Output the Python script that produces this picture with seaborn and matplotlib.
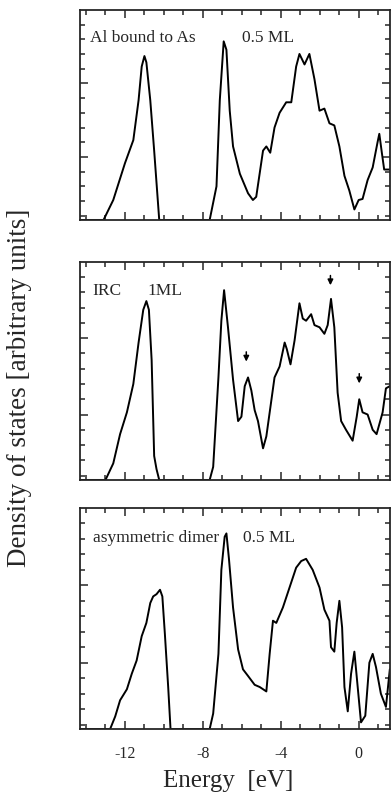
import numpy as np
import pandas as pd
import seaborn as sns
import matplotlib.pyplot as plt
from matplotlib.ticker import MultipleLocator, FixedLocator

# panel 1: Al bound to As, 0.5 ML
e1 = [-14.3, -13.1, -12.6, -12.0, -11.57, -11.3, -11.14, -11.0, -10.9, -10.7, -10.5, -10.24,
      -7.65, -7.3, -7.13, -6.93, -6.79, -6.62, -6.45, -6.1, -5.68, -5.43, -5.26, -4.91, -4.74,
      -4.54, -4.32, -4.06, -3.72, -3.46, -3.21, -3.04, -2.78, -2.53, -2.27, -2.01, -1.76, -1.5,
      -1.25, -0.99, -0.73, -0.48, -0.22, 0.0, 0.2, 0.46, 0.72, 0.97, 1.06, 1.19, 1.31, 1.48, 1.6]
d1 = [0, 0, 0.095, 0.27, 0.38, 0.57, 0.73, 0.78, 0.75, 0.57, 0.33, 0,
      0, 0.16, 0.57, 0.85, 0.81, 0.52, 0.35, 0.22, 0.127, 0.095, 0.11, 0.33, 0.35,
      0.32, 0.44, 0.51, 0.56, 0.56, 0.73, 0.79, 0.74, 0.79, 0.67, 0.52, 0.53, 0.46,
      0.45, 0.35, 0.21, 0.14, 0.05, 0.095, 0.10, 0.19, 0.25, 0.37, 0.41, 0.32, 0.24, 0.24, 0.24]

# panel 2: IRC, 1 ML
e2 = [-14.3, -13.0, -12.6, -12.25, -11.9, -11.57, -11.3, -11.06, -10.9, -10.77, -10.63, -10.5,
      -10.38, -10.24, -7.65, -7.47, -7.2, -7.05, -6.91, -6.71, -6.45, -6.19, -6.02, -5.85,
      -5.68, -5.51, -5.34, -5.17, -4.91, -4.74, -4.32, -4.06, -3.8, -3.69, -3.5, -3.29, -3.04,
      -2.87, -2.7, -2.44, -2.27, -2.01, -1.76, -1.59, -1.42, -1.25, -1.08, -0.9, -0.65, -0.31,
      -0.1, 0.03, 0.2, 0.46, 0.72, 0.92, 1.23, 1.4, 1.6]
d2 = [0, 0, 0.076, 0.21, 0.31, 0.44, 0.63, 0.78, 0.82, 0.78, 0.55, 0.11,
      0.05, 0, 0, 0.06, 0.47, 0.73, 0.87, 0.70, 0.46, 0.27, 0.29, 0.43,
      0.47, 0.41, 0.32, 0.27, 0.145, 0.20, 0.47, 0.52, 0.63, 0.60, 0.53, 0.64, 0.81,
      0.74, 0.73, 0.76, 0.71, 0.70, 0.67, 0.71, 0.83, 0.70, 0.40, 0.27, 0.23, 0.18,
      0.29, 0.37, 0.31, 0.30, 0.23, 0.21, 0.31, 0.42, 0.43]

# panel 3: asymmetric dimer, 0.5 ML
e3 = [-14.3, -12.76, -12.5, -12.25, -11.9, -11.65, -11.4, -11.14, -10.9, -10.7, -10.55, -10.38,
      -10.2, -10.08, -9.95, -9.78, -9.66, -7.65, -7.47, -7.2, -7.05, -6.88, -6.79, -6.66,
      -6.45, -6.19, -5.94, -5.68, -5.34, -5.08, -4.74, -4.57, -4.4, -4.23, -3.89, -3.55, -3.21,
      -2.95, -2.7, -2.36, -2.01, -1.76, -1.5, -1.42, -1.25, -1.13, -0.99, -0.85, -0.73, -0.56,
      -0.39, -0.22, -0.05, 0.12, 0.34, 0.55, 0.72, 0.89, 1.14, 1.4, 1.6]
d3 = [0, 0, 0.057, 0.13, 0.18, 0.25, 0.31, 0.42, 0.48, 0.57, 0.60, 0.61,
      0.63, 0.60, 0.43, 0.19, 0, 0, 0.07, 0.34, 0.72, 0.87, 0.885, 0.77,
      0.55, 0.36, 0.27, 0.24, 0.20, 0.19, 0.17, 0.34, 0.49, 0.48, 0.55, 0.64, 0.73,
      0.76, 0.77, 0.72, 0.64, 0.54, 0.49, 0.37, 0.35, 0.48, 0.58, 0.46, 0.19, 0.08,
      0.25, 0.35, 0.19, 0.03, 0.06, 0.30, 0.34, 0.28, 0.16, 0.10, 0.27]

labels = [("Al bound to As", "0.5 ML"), ("IRC", "1ML"), ("asymmetric dimer", "0.5 ML")]

# arrows in the IRC panel (energy, tip height)
arrow_e = [-5.77, -1.45, 0.03]
arrow_d = [0.52, 0.87, 0.42]

sns.set_style("ticks")
plt.rcParams['font.family'] = ['Liberation Serif', 'DejaVu Serif']

fig = plt.figure(figsize=(3.91, 7.99), dpi=100)
boxes = [[0.205, 0.7247, 0.792, 0.263],
         [0.205, 0.3993, 0.792, 0.273],
         [0.205, 0.0876, 0.792, 0.2766]]
series = [(e1, d1), (e2, d2), (e3, d3)]
text_x = [(0.032, 0.523), (0.04, 0.216), (0.042, 0.526)]

for i, (box, (e, d)) in enumerate(zip(boxes, series)):
    ax = fig.add_axes(box)
    df = pd.DataFrame({"E": e, "D": d})
    sns.lineplot(data=df, x="E", y="D", ax=ax, color="black", lw=1.4, sort=False)
    ax.set_xlim(-14.3, 1.6)
    ax.set_ylim(0, 1)
    ax.xaxis.set_major_locator(MultipleLocator(4))
    ax.xaxis.set_minor_locator(MultipleLocator(1))
    ax.yaxis.set_major_locator(FixedLocator([0.30, 0.65]))
    ax.yaxis.set_minor_locator(FixedLocator(np.arange(0.02, 1.0, 0.07)))
    ax.tick_params(which="both", direction="in", top=True, right=True, width=1.1)
    ax.tick_params(which="major", length=5.5)
    ax.tick_params(which="minor", length=3.5)
    ax.tick_params(axis="y", labelleft=False)
    ax.tick_params(axis="x", labelsize=11.5, pad=12)
    if i < 2:
        ax.tick_params(axis="x", labelbottom=False)
    else:
        ax.set_xticks([-12, -8, -4, 0])
        ax.set_xticklabels(["-12", "-8", "-4", "0"])
    for s in ax.spines.values():
        s.set_linewidth(1.3)
    ax.set_xlabel("")
    ax.set_ylabel("")
    ax.text(text_x[i][0], 0.865, labels[i][0], transform=ax.transAxes, fontsize=12.5, va="center")
    ax.text(text_x[i][1], 0.865, labels[i][1], transform=ax.transAxes, fontsize=12.5, va="center")
    if i == 1:
        for ae, ad in zip(arrow_e, arrow_d):
            ax.annotate("", xy=(ae, ad + 0.01), xytext=(ae, ad + 0.08),
                        arrowprops=dict(arrowstyle="-|>", color="black", lw=1.1,
                                        mutation_scale=8))

fig.text(0.05, 0.515, "Density of states [arbitrary units]", rotation=90,
         ha="center", va="center", fontsize=19.5)
fig.text(0.583, 0.022, "Energy  [eV]", ha="center", va="center", fontsize=18)

fig.savefig("out.png", dpi=100)
